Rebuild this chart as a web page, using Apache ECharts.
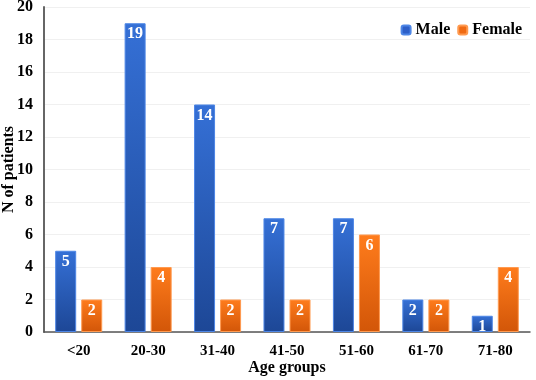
<!DOCTYPE html>
<html>
<head>
<meta charset="utf-8">
<script src="https://cdn.jsdelivr.net/npm/echarts@6/dist/echarts.min.js"></script>
<style>
  html, body { margin: 0; padding: 0; background: #fff; }
  #main { width: 536px; height: 380px; }
</style>
</head>
<body>
<div id="main"></div>
<script>
// values
const ageGroups = ['<20', '20-30', '31-40', '41-50', '51-60', '61-70', '71-80']
const male = [5, 19, 14, 7, 7, 2, 1]
const female = [2, 4, 2, 2, 6, 2, 4]

const font = 'Liberation Serif'

function grad (top, bottom) {
  return new echarts.graphic.LinearGradient(0, 0, 0, 1, [
    { offset: 0, color: top },
    { offset: 1, color: bottom }
  ])
}

const barLabel = {
  show: true,
  position: 'insideTop',
  distance: 3,
  color: '#fff',
  fontFamily: font,
  fontWeight: 'bold',
  fontSize: 16
}

const myChart = echarts.init(document.getElementById('main'))
const option = {
  animation: false,
  textStyle: { fontFamily: font },
  grid: { left: 44, right: 6, top: 7, bottom: 48, outerBoundsMode: 'none' },
  legend: {
    top: 17,
    right: 9,
    itemWidth: 9,
    itemHeight: 9,
    itemGap: 7,
    textStyle: { fontFamily: font, fontWeight: 'bold', fontSize: 16, color: '#000' },
    data: [
      { name: 'Male', itemStyle: { color: '#2d5fc8' } },
      { name: 'Female', itemStyle: { color: '#f06a12' } }
    ]
  },
  xAxis: {
    type: 'category',
    data: ageGroups,
    name: 'Age groups',
    nameLocation: 'middle',
    nameGap: 28,
    nameMoveOverlap: false,
    nameTextStyle: { fontFamily: font, fontWeight: 'bold', fontSize: 16, color: '#000' },
    axisLine: { lineStyle: { color: '#555', width: 1.5 } },
    axisTick: { show: false },
    axisLabel: { fontFamily: font, fontWeight: 'bold', fontSize: 15, color: '#000', margin: 12 }
  },
  yAxis: {
    type: 'value',
    min: 0,
    max: 20,
    interval: 2,
    name: 'N of patients',
    nameLocation: 'middle',
    nameGap: 27,
    nameMoveOverlap: false,
    nameTextStyle: { fontFamily: font, fontWeight: 'bold', fontSize: 16, color: '#000' },
    axisLine: { show: true, lineStyle: { color: '#666', width: 2 } },
    axisTick: { show: false },
    axisLabel: { fontFamily: font, fontWeight: 'bold', fontSize: 16, color: '#000', margin: 11 },
    splitLine: { lineStyle: { color: '#f0f0f0' } }
  },
  series: [
    {
      name: 'Male',
      type: 'bar',
      data: male,
      barWidth: 21,
      barGap: '24%',
      itemStyle: { color: grad('#3570d6', '#1d4796'), borderColor: '#4d86e6', borderWidth: 1 },
      label: barLabel
    },
    {
      name: 'Female',
      type: 'bar',
      data: female,
      barWidth: 21,
      itemStyle: { color: grad('#ff7c1c', '#d25608'), borderColor: '#ff9a50', borderWidth: 1 },
      label: barLabel
    }
  ]
}
myChart.setOption(option)
</script>
</body>
</html>
